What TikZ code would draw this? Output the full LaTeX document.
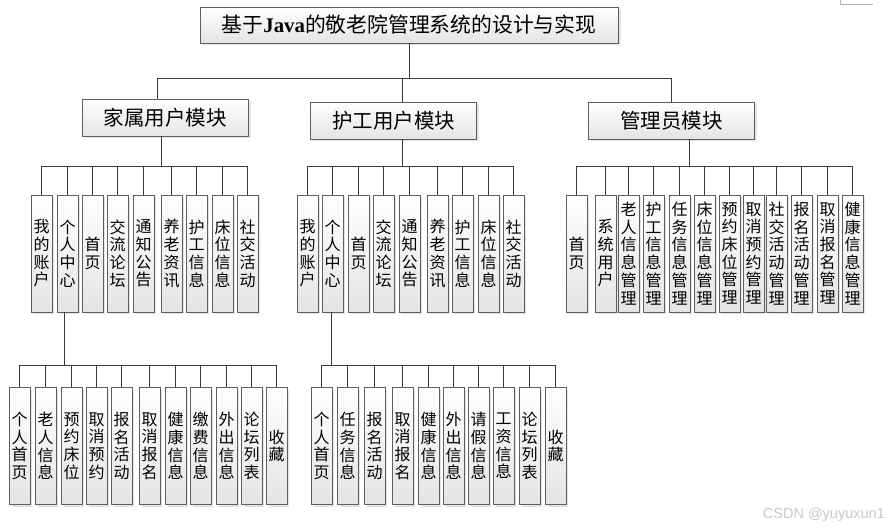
\documentclass[tikz,border=0pt]{standalone}
\usepackage{fontspec}
\setmainfont{Liberation Serif}
\newfontfamily\cjk{Noto Sans CJK SC}
\newfontfamily\markfont{Liberation Sans}
\usetikzlibrary{shadows}
\definecolor{boxline}{HTML}{5E5E5E}
\definecolor{linkline}{HTML}{3C3C3C}
\definecolor{softgray}{HTML}{E4E4E4}
\tikzset{
  box/.style={draw=boxline,line width=0.9pt,top color=white,bottom color=softgray,
              drop shadow={shadow xshift=2.5pt,shadow yshift=-2.5pt,opacity=0.22},
              inner sep=0pt},
  module/.style={box,minimum width=166pt,minimum height=37pt,
                 font=\cjk\fontsize{20.5}{22}\selectfont},
  leaf/.style={box,anchor=north west,minimum width=20.5pt,minimum height=117pt,
               align=center,font=\cjk\fontsize{16}{17.7}\selectfont},
  link/.style={draw=linkline,line width=0.9pt}
}

\begin{document}
\begin{tikzpicture}[x=1pt,y=-1pt]
  \useasboundingbox (0,0) rectangle (894,532);
  % top level
  \node[box,minimum width=418pt,minimum height=36pt,font=\fontsize{20.8}{22}\selectfont]
    (root) at (409,25) {{\cjk 基于}\textbf{Java}{\cjk 的敬老院管理系统的设计与实现}};
  \node[module] (fam) at (165,117.5) {家属用户模块};
  \node[module] (nur) at (393.5,120.5) {护工用户模块};
  \node[module] (adm) at (671.5,120.5) {管理员模块};
  % family and nurse pages (same list)
  \foreach \xf/\xn/\txt [count=\i] in {31/297/{我\\的\\账\\户},57/322/{个\\人\\中\\心},
      82/348/{首\\页},107/373/{交\\流\\论\\坛},133/399/{通\\知\\公\\告},
      161/427/{养\\老\\资\\讯},186/452/{护\\工\\信\\息},212/478/{床\\位\\信\\息},
      237/503/{社\\交\\活\\动}}{
    \node[leaf] (f\i) at (\xf,194.5) {\txt};
    \node[leaf] (n\i) at (\xn,194.5) {\txt};
  }
  % admin pages
  \foreach \x/\txt [count=\i] in {566/{首\\页},595/{系\\统\\用\\户},
      618/{老\\人\\信\\息\\管\\理},643/{护\\工\\信\\息\\管\\理},669/{任\\务\\信\\息\\管\\理},
      694/{床\\位\\信\\息\\管\\理},719/{预\\约\\床\\位\\管\\理},743/{取\\消\\预\\约\\管\\理},
      766/{社\\交\\活\\动\\管\\理},791/{报\\名\\活\\动\\管\\理},817/{取\\消\\报\\名\\管\\理},
      842/{健\\康\\信\\息\\管\\理}}
    \node[leaf] (a\i) at (\x,194.5) {\txt};
  % personal centre, family
  \foreach \x/\txt [count=\i] in {9/{个\\人\\首\\页},35/{老\\人\\信\\息},61/{预\\约\\床\\位},
      86/{取\\消\\预\\约},111/{报\\名\\活\\动},139/{取\\消\\报\\名},165/{健\\康\\信\\息},
      190/{缴\\费\\信\\息},216/{外\\出\\信\\息},241/{论\\坛\\列\\表},266/{收\\藏}}
    \node[leaf] (fp\i) at (\x,387) {\txt};
  % personal centre, nurse
  \foreach \x/\txt [count=\i] in {311/{个\\人\\首\\页},337/{任\\务\\信\\息},364/{报\\名\\活\\动},
      392/{取\\消\\报\\名},418/{健\\康\\信\\息},443/{外\\出\\信\\息},468/{请\\假\\信\\息},
      493/{工\\资\\信\\息},519/{论\\坛\\列\\表},545/{收\\藏}}
    \node[leaf] (np\i) at (\x,387) {\txt};

  % connectors
  \draw[link] (root.south) -- ++(0,35) -| ([xshift=-8pt]fam.north);
  \draw[link] (root.south) -- ++(0,35) -| ([xshift=8.5pt]nur.north);
  \draw[link] (root.south) -- ++(0,35) -| (adm.north);
  \foreach \i in {1,...,9}{
    \draw[link] ([xshift=-4pt]fam.south) -- ++(0,30) -| (f\i.north);
    \draw[link] ([xshift=8.5pt]nur.south) -- ++(0,27) -| (n\i.north);
  }
  \foreach \i in {1,...,12}
    \draw[link] ([xshift=17.5pt]adm.south) -- ++(0,27) -| (a\i.north);
  \foreach \i in {1,...,11}
    \draw[link] ([xshift=-3pt]f2.south) -- ++(0,53) -| (fp\i.north);
  \foreach \i in {1,...,10}
    \draw[link] ([xshift=-1.5pt]n2.south) -- ++(0,53) -| (np\i.north);

  \draw[black!30,line width=0.8pt] (840,0) -- (840,4) -- (873,4);
  \node[font=\markfont\fontsize{14.5}{16}\selectfont,text=black!22,anchor=east,inner sep=0pt]
    (mark) at (885,515) {CSDN @yuyuxun1};
\end{tikzpicture}
\end{document}
